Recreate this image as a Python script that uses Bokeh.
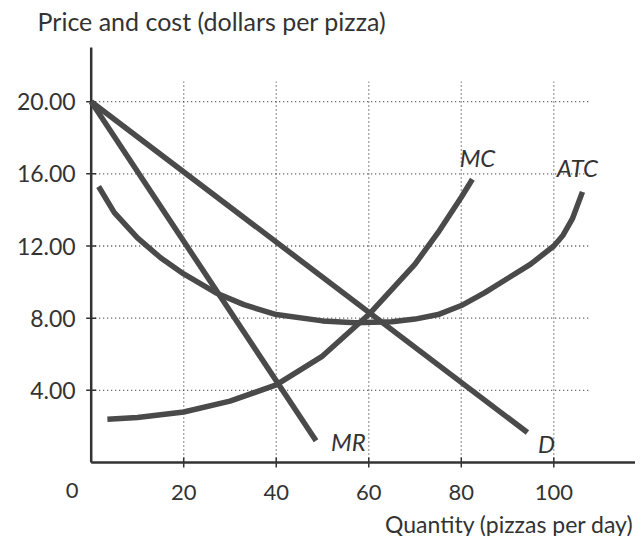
from bokeh.plotting import figure
from bokeh.models import Range1d, Label
from bokeh.core.properties import value
from bokeh.embed import file_html
from bokeh.resources import INLINE

# ---- data ----
x_ticks = [20, 40, 60, 80, 100]
x_tick_labels = ["20", "40", "60", "80", "100"]
y_ticks = [4, 8, 12, 16, 20]
y_tick_labels = ["4.00", "8.00", "12.00", "16.00", "20.00"]

d_q = [0, 94.3]
d_p = [20.0, 1.66]

mr_q = [0, 48.6]
mr_p = [20.0, 1.2]

mc_q = [3.5, 10, 20, 30, 40, 50, 60, 70, 75, 80, 82.4]
mc_p = [2.4, 2.5, 2.8, 3.4, 4.3, 5.9, 8.2, 11.0, 12.75, 14.7, 15.7]

atc_q = [1.6, 5, 10, 15, 20, 27, 33, 40, 50, 57, 65, 70, 75, 80, 85, 90, 95, 100, 102, 104, 106.2]
atc_p = [15.3, 13.85, 12.45, 11.35, 10.45, 9.4, 8.75, 8.2, 7.85, 7.75, 7.8, 7.95, 8.2, 8.7, 9.4, 10.2, 11.0, 12.0, 12.6, 13.5, 15.0]

FONT = "Lato"
INK = "#333333"
CURVE = "#4a4a4a"
GRID = "#444444"

W, H = 635, 536
PX_X = 4.626   # pixels per quantity unit
PX_Y = 18.04   # pixels per dollar
X0 = -90.7 / PX_X
X1 = X0 + W / PX_X
Y0 = -(H - 462) / PX_Y
Y1 = Y0 + H / PX_Y

p = figure(width=W, height=H, output_backend="svg", toolbar_location=None,
           x_range=Range1d(X0, X1), y_range=Range1d(Y0, Y1),
           x_axis_type=None, y_axis_type=None, min_border=0)
p.outline_line_color = None
p.background_fill_color = "white"
p.border_fill_color = "white"
p.grid.visible = False

x_end = X1
y_top = 23.0

# dotted grid
p.segment(x0=x_ticks, y0=[0] * len(x_ticks), x1=x_ticks, y1=[21.1] * len(x_ticks),
          line_color=GRID, line_width=1.3, line_dash="1 3")
p.segment(x0=[0] * len(y_ticks), y0=y_ticks, x1=[108] * len(y_ticks), y1=y_ticks,
          line_color=GRID, line_width=1.3, line_dash="1 3")

# axes
p.segment(x0=[0, 0], y0=[0, 0], x1=[0, x_end], y1=[y_top, 0],
          line_color=INK, line_width=2.5)
# tick marks crossing the axes
tx = 5 / PX_X
ty = 5 / PX_Y
p.segment(x0=[-tx] * len(y_ticks), y0=y_ticks, x1=[tx] * len(y_ticks), y1=y_ticks,
          line_color=INK, line_width=1.5)
p.segment(x0=x_ticks, y0=[-ty] * len(x_ticks), x1=x_ticks, y1=[ty] * len(x_ticks),
          line_color=INK, line_width=1.5)

# tick labels
p.text(x=[-15.5 / PX_X] * len(y_ticks), y=y_ticks, text=y_tick_labels,
       text_font=value(FONT), text_font_size="23px", text_color=INK,
       text_align="right", text_baseline="middle")
p.text(x=x_ticks, y=[-30 / PX_Y] * len(x_ticks), text=x_tick_labels,
       text_font=value(FONT), text_font_size="22px", text_color=INK,
       text_align="center", text_baseline="middle")

# curves
for q, pr in ((d_q, d_p), (mr_q, mr_p), (mc_q, mc_p), (atc_q, atc_p)):
    p.line(q, pr, line_color=CURVE, line_width=5.5, line_join="round")

# curve labels
for txt, x, y in (("MC", 83.5, 16.9), ("ATC", 105.1, 16.35), ("MR", 55.6, 1.14), ("D", 98.4, 1.05)):
    p.add_layout(Label(x=x, y=y, text=txt, text_font=FONT, text_font_style="italic",
                       text_font_size="24px", text_color=INK, text_align="center",
                       text_baseline="middle"))

# origin label and axis titles
p.add_layout(Label(x=-19 / PX_X, y=-28 / PX_Y, text="0", text_font=FONT,
                   text_font_size="22px", text_color=INK, text_align="center",
                   text_baseline="middle"))
p.add_layout(Label(x=X1 - 0.4, y=-61 / PX_Y, text="Quantity (pizzas per day)",
                   text_font=FONT, text_font_size="23px", text_color=INK,
                   text_align="right", text_baseline="middle"))
p.add_layout(Label(x=-53.7 / PX_X, y=(462 - 20) / PX_Y,
                   text="Price and cost (dollars per pizza)", text_font=FONT,
                   text_font_size="25px", text_color=INK, text_align="left",
                   text_baseline="middle"))

open("out.html", "w").write(file_html(p, INLINE))
